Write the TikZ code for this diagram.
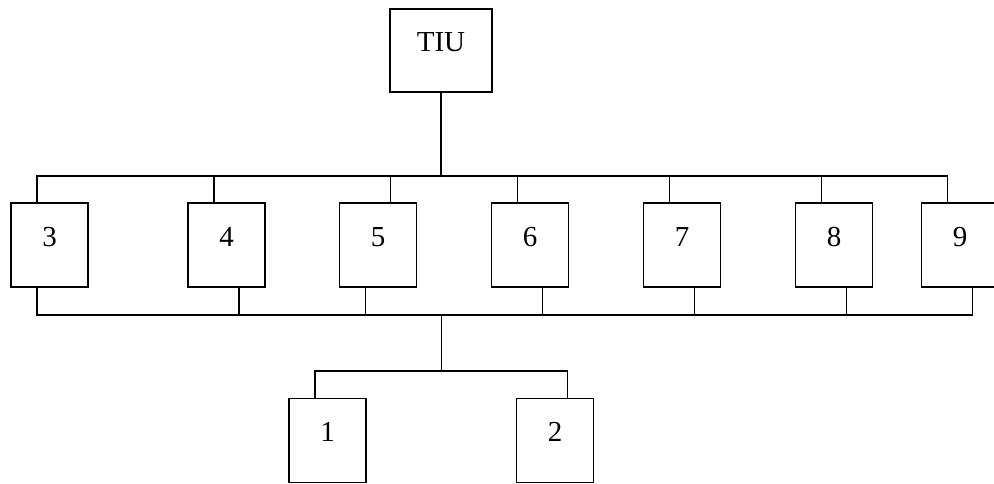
\documentclass[tikz,border=0pt]{standalone}
\usepackage{fontspec}
\setmainfont{Liberation Serif}
\usepackage{tikz}
\usetikzlibrary{calc}

\begin{document}
\begin{tikzpicture}[x=.5pt,y=-.5pt,line width=.8pt,
	khoi/.style={draw,inner sep=0pt,minimum width=38.5pt,minimum height=42pt,
		text height=10pt,text depth=9pt,font=\fontsize{14.5pt}{17pt}\selectfont}]
	\clip (0,0) rectangle (994,483);
	\def\lech{6.25pt}%do lech day noi
	\node[khoi,minimum width=51pt,minimum height=41.5pt] (tiu) at (441,50.5) {TIU};
	\coordinate (tren) at (441,176);%thanh tren
	\coordinate (duoi) at (441.5,315);%thanh duoi
	\coordinate (thap) at (441.5,371);
	\draw (tiu)--(tren);
	\foreach \n/\x/\a/\b in {3/49.5/-1/-1,4/226.5/-1/1,5/378/1/-1,6/530/-1/1,7/682/-1/1,8/834/-1/1,9/960/-1/1}{
		\node[khoi] (b\n) at (\x,245) {\n};
		\draw ([xshift=\a*\lech]b\n.north)|-(tren);
		\draw ([xshift=\b*\lech]b\n.south)|-(duoi);
	}
	\draw (duoi)--(thap);
	\node[khoi] (b1) at (327.5,440.5) {1};
	\node[khoi] (b2) at (555,440.5) {2};
	\draw ([xshift=-\lech]b1.north)|-(thap);
	\draw ([xshift=\lech]b2.north)|-(thap);
\end{tikzpicture}
\end{document}
